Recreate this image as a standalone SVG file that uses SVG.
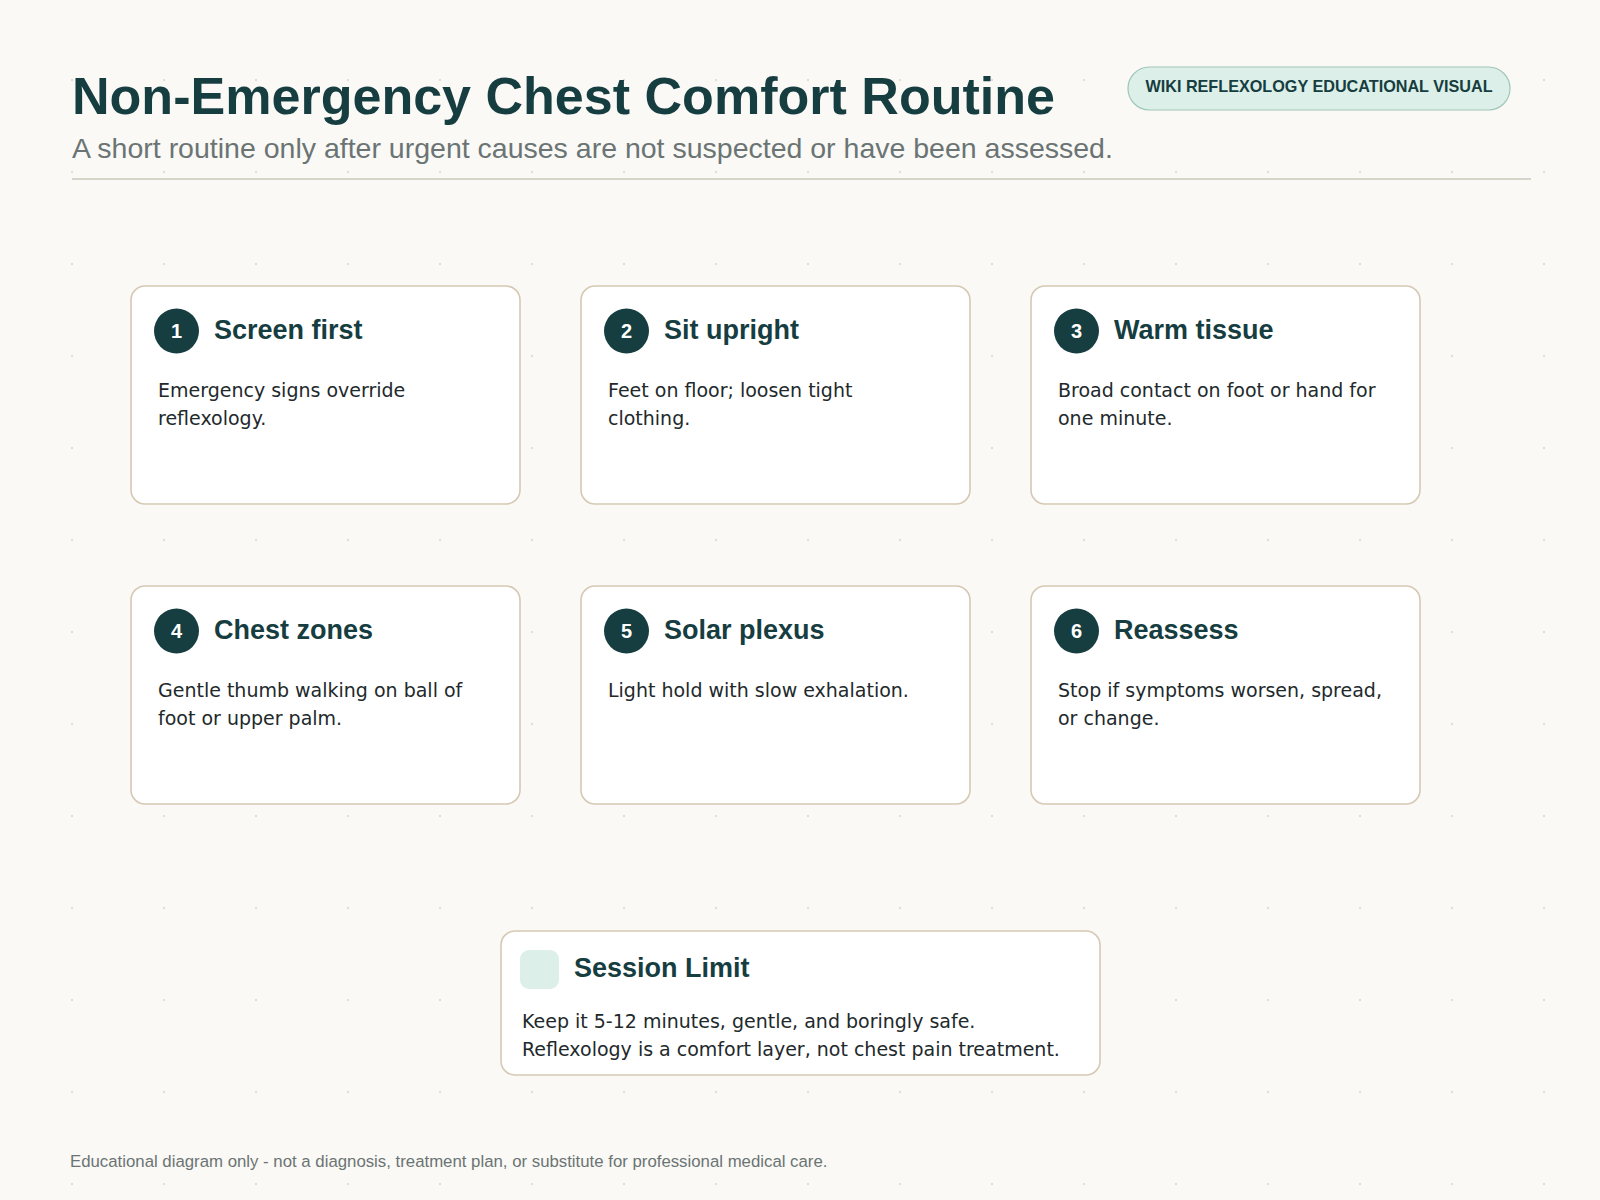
<svg xmlns="http://www.w3.org/2000/svg" width="1600" height="1200" viewBox="0 0 1600 1200">
<defs>
<pattern id="dots" x="71" y="79" width="92" height="92" patternUnits="userSpaceOnUse"><circle cx="1" cy="1" r="1.2" fill="#e2ddd2"/></pattern>
</defs>
<style>
.card{fill:#fff;stroke:#d6c9b4;stroke-width:1.6}
.num{fill:#163d40}
.numt{font-family:"Liberation Sans",Arial,sans-serif;font-size:20px;font-weight:bold;fill:#fff;text-anchor:middle}
.ttl{font-family:"Liberation Sans",Arial,sans-serif;font-size:27px;font-weight:bold;fill:#163d40}
.body{font-family:"DejaVu Sans",sans-serif;font-size:19px;fill:#22292b}
</style>
<rect width="1600" height="1200" fill="#faf9f5"/>
<rect width="1600" height="1200" fill="url(#dots)"/>
<text x="72" y="114" font-family="Liberation Sans,Arial,sans-serif" font-size="52" font-weight="bold" fill="#163d40" textLength="983" lengthAdjust="spacingAndGlyphs">Non-Emergency Chest Comfort Routine</text>
<text x="72" y="158" font-family="Liberation Sans,Arial,sans-serif" font-size="28.5" fill="#6b7474">A short routine only after urgent causes are not suspected or have been assessed.</text>
<line x1="72" y1="179" x2="1531" y2="179" stroke="#cfc9bb" stroke-width="1.5"/>
<g id="badge"><rect x="1128" y="67" width="382" height="43" rx="21.5" fill="#dcefe9" stroke="#9fc6ba" stroke-width="1.2"/>
<text x="1319" y="92" text-anchor="middle" font-family="Liberation Sans,Arial,sans-serif" font-size="16.2" font-weight="bold" fill="#163d40">WIKI REFLEXOLOGY EDUCATIONAL VISUAL</text></g>
<g id="connectors"/>
<g id="n1"><rect class="card" x="131" y="286" width="389" height="218" rx="14"/><circle class="num" cx="176.5" cy="331" r="22.5"/><text class="numt" x="176.5" y="338">1</text><text class="ttl" x="214" y="339">Screen first</text><text class="body" x="158" y="397">Emergency signs override</text><text class="body" x="158" y="425">reflexology.</text></g>
<g id="n2"><rect class="card" x="581" y="286" width="389" height="218" rx="14"/><circle class="num" cx="626.5" cy="331" r="22.5"/><text class="numt" x="626.5" y="338">2</text><text class="ttl" x="664" y="339">Sit upright</text><text class="body" x="608" y="397">Feet on floor; loosen tight</text><text class="body" x="608" y="425">clothing.</text></g>
<g id="n3"><rect class="card" x="1031" y="286" width="389" height="218" rx="14"/><circle class="num" cx="1076.5" cy="331" r="22.5"/><text class="numt" x="1076.5" y="338">3</text><text class="ttl" x="1114" y="339">Warm tissue</text><text class="body" x="1058" y="397">Broad contact on foot or hand for</text><text class="body" x="1058" y="425">one minute.</text></g>
<g id="n4"><rect class="card" x="131" y="586" width="389" height="218" rx="14"/><circle class="num" cx="176.5" cy="631" r="22.5"/><text class="numt" x="176.5" y="638">4</text><text class="ttl" x="214" y="639">Chest zones</text><text class="body" x="158" y="697">Gentle thumb walking on ball of</text><text class="body" x="158" y="725">foot or upper palm.</text></g>
<g id="n5"><rect class="card" x="581" y="586" width="389" height="218" rx="14"/><circle class="num" cx="626.5" cy="631" r="22.5"/><text class="numt" x="626.5" y="638">5</text><text class="ttl" x="664" y="639">Solar plexus</text><text class="body" x="608" y="697">Light hold with slow exhalation.</text></g>
<g id="n6"><rect class="card" x="1031" y="586" width="389" height="218" rx="14"/><circle class="num" cx="1076.5" cy="631" r="22.5"/><text class="numt" x="1076.5" y="638">6</text><text class="ttl" x="1114" y="639">Reassess</text><text class="body" x="1058" y="697">Stop if symptoms worsen, spread,</text><text class="body" x="1058" y="725">or change.</text></g>
<g id="session"><rect class="card" x="501" y="931" width="599" height="144" rx="14"/><rect x="520" y="950" width="39" height="39" rx="9" fill="#dcefe9"/><text class="ttl" x="574" y="977">Session Limit</text><text class="body" x="522" y="1028">Keep it 5-12 minutes, gentle, and boringly safe.</text><text class="body" x="522" y="1056">Reflexology is a comfort layer, not chest pain treatment.</text></g>
<text x="70" y="1167" font-family="Liberation Sans,Arial,sans-serif" font-size="16.8" fill="#6b7474">Educational diagram only - not a diagnosis, treatment plan, or substitute for professional medical care.</text>
</svg>
